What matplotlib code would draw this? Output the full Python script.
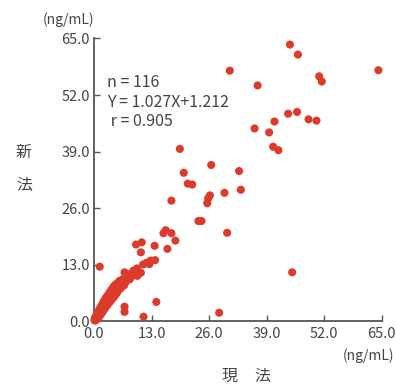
import numpy as np
import matplotlib
matplotlib.use('Agg')
import matplotlib.pyplot as plt

plt.rcParams['font.family'] = ['Noto Sans CJK JP', 'DejaVu Sans']

# current method (x) vs new method (y), ng/mL
genho = [44.3, 46.1, 30.7, 37.0, 50.9, 51.5, 64.3, 36.3, 39.6, 40.8,
         43.9, 45.9, 48.5, 50.3, 40.5, 41.7, 26.5, 32.8, 26.2, 25.8,
         25.6, 29.5, 33.2, 24.3, 23.6, 30.1, 19.4, 20.3, 21.2, 22.2,
         17.5, 16.2, 15.7, 17.5, 18.4, 9.5, 10.8, 13.7, 10.6, 16.6,
         44.8, 28.3, 14.1, 6.9, 6.9, 11.2, 1.3, 11.9, 12.8, 13.8,
         11.1, 12.5, 9.7, 10.6, 6.9, 9.8, 7.9, 6.3, 5.4,
         0.1, 0.2, 0.3, 0.4, 0.5, 0.6, 0.7, 0.8, 0.9, 1.0,
         1.1, 1.2, 1.3, 1.4, 1.5, 1.6, 1.7, 1.8, 1.9, 2.0,
         2.1, 2.2, 2.3, 2.4, 2.5, 2.6, 2.7, 2.8, 3.0, 3.1,
         3.2, 3.3, 3.5, 3.6, 3.7, 3.9, 4.0, 4.1, 4.3, 4.4,
         4.6, 4.7, 4.9, 5.0, 5.2, 5.5, 5.7, 5.9, 6.2, 6.5,
         6.8, 7.2, 7.6, 8.1, 8.5, 8.9, 9.2]
shinho = [63.6, 61.3, 57.6, 54.2, 56.3, 55.1, 57.7, 44.3, 43.4, 45.9,
          47.7, 48.1, 46.4, 46.1, 40.1, 39.3, 35.9, 34.5, 28.9, 28.2,
          27.1, 29.5, 30.2, 23.0, 23.0, 20.3, 39.6, 34.1, 31.6, 31.4,
          27.7, 20.9, 20.2, 20.2, 18.5, 17.6, 18.1, 17.3, 15.8, 16.6,
          11.2, 1.9, 4.4, 3.3, 2.1, 1.0, 12.5, 13.4, 13.9, 14.0,
          13.0, 13.1, 12.1, 11.1, 11.2, 10.4, 9.8, 9.4, 8.3,
          0.2, 0.7, 0.1, 1.1, 0.3, 1.4, 0.5, 1.8, 0.7, 2.2,
          0.9, 2.6, 1.2, 3.0, 1.5, 3.3, 1.8, 3.7, 2.1, 4.0,
          2.4, 4.4, 2.7, 4.8, 3.0, 5.1, 3.3, 5.5, 3.6, 5.9,
          4.0, 6.2, 4.3, 6.7, 4.6, 7.1, 5.0, 7.4, 5.3, 7.9,
          5.7, 8.2, 6.1, 8.5, 6.5, 7.0, 9.2, 7.4, 7.8, 9.6,
          8.2, 9.0, 10.8, 9.6, 10.3, 11.6, 10.6]

ticks = [0.0, 13.0, 26.0, 39.0, 52.0, 65.0]
stats = ['n = 116', 'Y = 1.027X+1.212', ' r = 0.905']

grey = '#555555'
txt = '#444444'
fig = plt.figure(figsize=(3.96, 3.85), dpi=100)
ax = fig.add_axes([0.2374, 0.1662, 0.726, 0.7338])

ax.scatter(genho, shinho, s=34, color='#dc3a2b', edgecolors='none', clip_on=False, zorder=3)

ax.set_xlim(0, 65)
ax.set_ylim(0, 65)
ax.set_xticks(ticks)
ax.set_yticks(ticks)
ax.set_xticklabels(['%.1f' % t for t in ticks])
ax.set_yticklabels(['%.1f' % t for t in ticks])
ax.tick_params(direction='in', length=4, width=1, color=grey, labelcolor=txt, labelsize=10.5)
ax.tick_params(axis='x', pad=4)
ax.tick_params(axis='y', pad=3)
for s in ['top', 'right']:
    ax.spines[s].set_visible(False)
for s in ['left', 'bottom']:
    ax.spines[s].set_color(grey)
    ax.spines[s].set_linewidth(1.3)

for i, t in enumerate(stats):
    ax.text(0.045, 0.845 - i * 0.07, t, transform=ax.transAxes, fontsize=11.5,
            color=txt, va='center', ha='left')

fig.text(68 / 396, 1 - 20 / 385, '(ng/mL)', fontsize=10, color=txt, ha='center', va='center')
fig.text(368 / 396, 1 - 356 / 385, '(ng/mL)', fontsize=10, color=txt, ha='center', va='center')
fig.text(230 / 396, 1 - 376 / 385, '現', fontsize=11.5, color=txt, ha='center', va='center')
fig.text(262 / 396, 1 - 376 / 385, '法', fontsize=11.5, color=txt, ha='center', va='center')
fig.text(24 / 396, 1 - 152 / 385, '新', fontsize=11.5, color=txt, ha='center', va='center')
fig.text(24 / 396, 1 - 185 / 385, '法', fontsize=11.5, color=txt, ha='center', va='center')

fig.savefig('out.png', dpi=100)
